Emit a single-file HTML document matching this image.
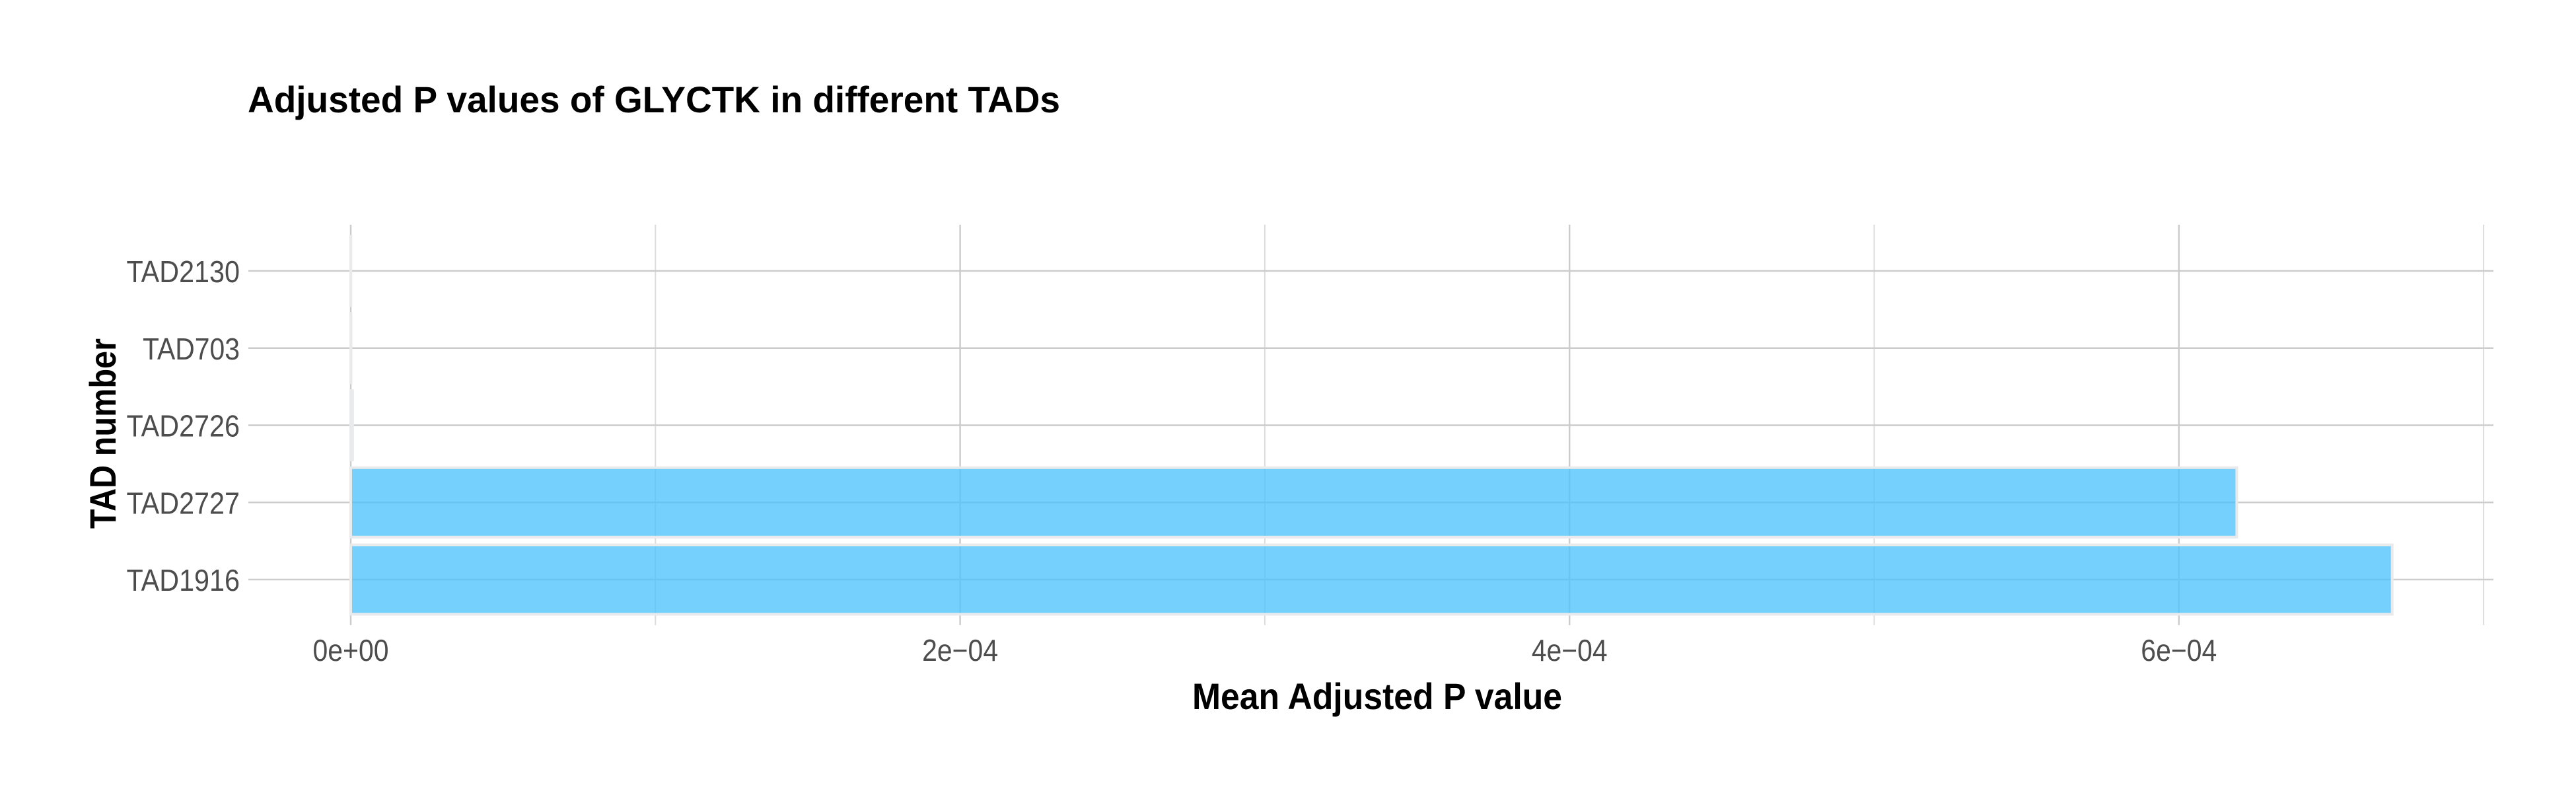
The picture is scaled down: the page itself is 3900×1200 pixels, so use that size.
<!DOCTYPE html>
<html><head><meta charset="utf-8"><style>html,body{margin:0;padding:0;background:#fff}svg{display:block}</style></head>
<body>
<svg id="chart" width="3900" height="1200" viewBox="0 0 3900 1200" xmlns="http://www.w3.org/2000/svg" font-family="'Liberation Sans', sans-serif">
<rect width="3900" height="1200" fill="#fff"/>
<g id="grid"></g>
<g id="bars"></g>
<g id="labels"></g>
<text x="375" y="170" font-size="56" font-weight="bold" fill="#000" textLength="1230" lengthAdjust="spacingAndGlyphs">Adjusted P values of GLYCTK in different TADs</text>
<text x="2085" y="1073" font-size="56" font-weight="bold" fill="#000" text-anchor="middle" textLength="560" lengthAdjust="spacingAndGlyphs">Mean Adjusted P value</text>
<text transform="translate(175,656) rotate(-90)" font-size="56" font-weight="bold" fill="#000" text-anchor="middle" textLength="288" lengthAdjust="spacingAndGlyphs">TAD number</text>
</svg>
<script>
const categories = ["TAD2130","TAD703","TAD2726","TAD2727","TAD1916"];
const values = [0.00000005, 0.0000001, 0.0000006, 0.000619, 0.000670];
const xTicks = [0, 0.0002, 0.0004, 0.0006];
const xTickLabels = ["0e+00","2e\u221204","4e\u221204","6e\u221204"];
const xMinor = [0.0001, 0.0003, 0.0005, 0.0007];

const NS = "http://www.w3.org/2000/svg";
const x0 = 531, pxPer = 461.3 / 0.0001;
const xScale = v => x0 + v * pxPer;
const yTop = 410, step = 116.75;
const yScale = i => yTop + i * step;
const panelL = 376, panelR = 3775, panelT = 340, panelB = 946;

function mk(tag, attrs, parent) {
  const el = document.createElementNS(NS, tag);
  for (const k in attrs) el.setAttribute(k, attrs[k]);
  parent.appendChild(el);
  return el;
}
const grid = document.getElementById('grid');
const bars = document.getElementById('bars');
const labels = document.getElementById('labels');

xMinor.forEach(v => {
  const l = mk('line', {x1: xScale(v), x2: xScale(v), y1: panelT, y2: panelB, stroke: '#dcdcdc', 'stroke-width': 2}, grid);
  
  
});
xTicks.forEach((v, i) => {
  const l = mk('line', {x1: xScale(v), x2: xScale(v), y1: panelT, y2: panelB, stroke: '#cccccc', 'stroke-width': 2.5}, grid);
  
  
  const t = mk('text', {x: xScale(v), y: 1000, 'font-size': 46, fill: '#4d4d4d', 'text-anchor': 'middle', textLength: 115, lengthAdjust: 'spacingAndGlyphs'}, labels);
  t.textContent = xTickLabels[i];
  
  
});
categories.forEach((c, i) => {
  const y = yScale(i);
  const l = mk('line', {x1: panelL, x2: panelR, y1: y, y2: y, stroke: '#cccccc', 'stroke-width': 2.5}, grid);
  
  
  const t = mk('text', {x: 363, y: y + 17, 'font-size': 46, fill: '#4d4d4d', 'text-anchor': 'end', textLength: c.length * 24.5, lengthAdjust: 'spacingAndGlyphs'}, labels);
  t.textContent = c;
  
  
  const h = step * 0.9;
  const w = Math.max(xScale(values[i]) - x0, 0.2);
  const r = mk('rect', {x: x0, y: y - h / 2, width: w, height: h, fill: 'rgba(80,195,252,0.78)', stroke: '#e8eaec', 'stroke-width': 4}, bars);
  
  
});
</script>
</body></html>
